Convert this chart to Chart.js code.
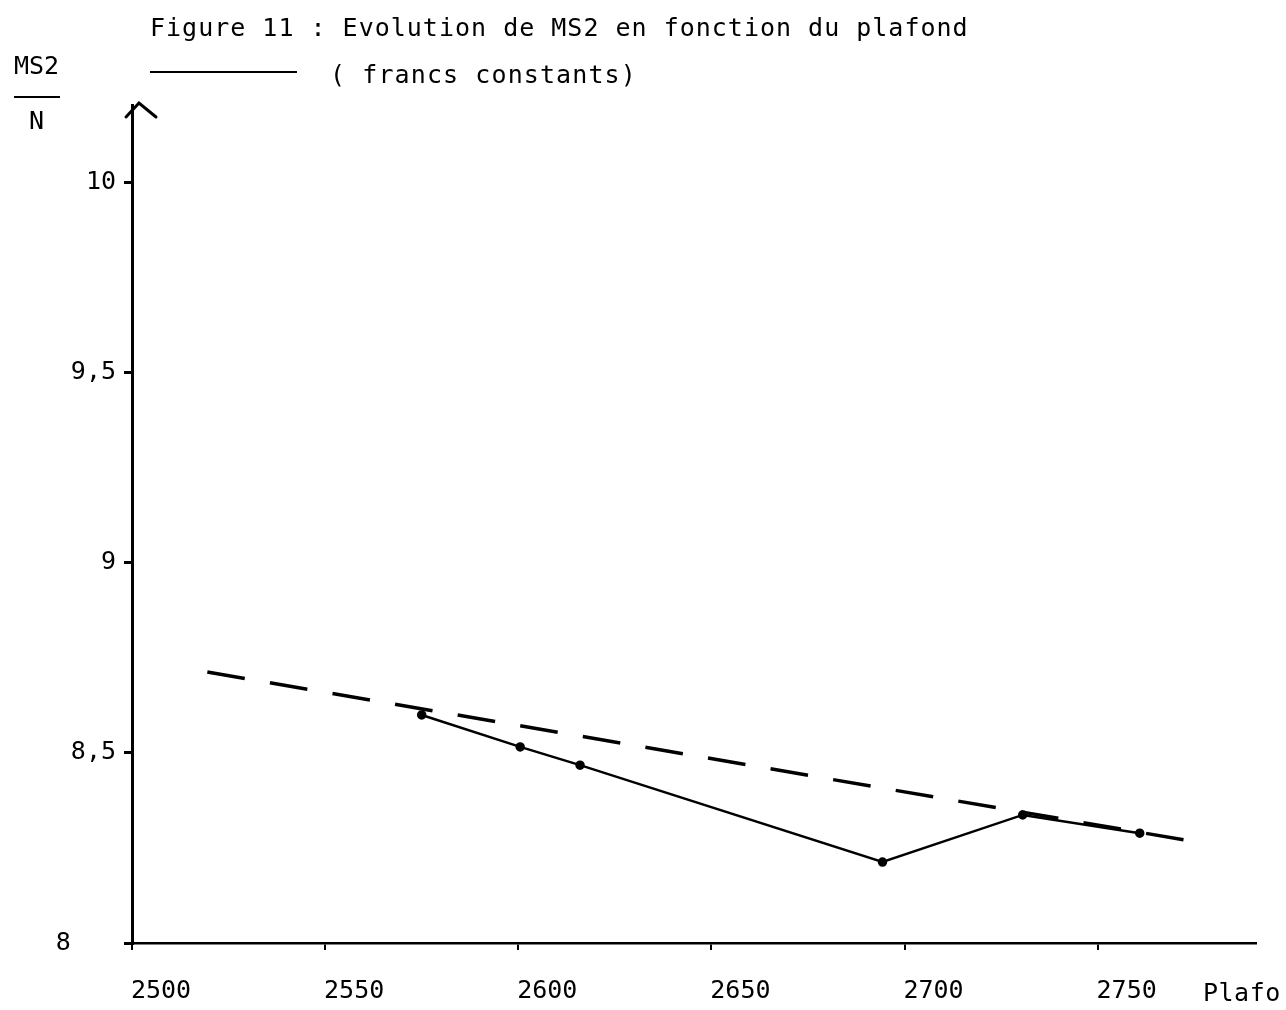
<!DOCTYPE html>
<html>
<head>
<meta charset="utf-8">
<script src="https://cdn.jsdelivr.net/npm/chart.js@4/dist/chart.umd.min.js"></script>
<style>
  html, body { margin: 0; padding: 0; background: #fff; }
  #wrap { position: relative; width: 1286px; height: 1010px; }
  canvas { position: absolute; left: 0; top: 0; }
  .t { position: absolute; font-family: "DejaVu Sans Mono", monospace; color: #000; white-space: pre; line-height: 1; }
</style>
</head>
<body>
<div id="wrap">
  <canvas id="c" width="1286" height="1010"></canvas>
  <div class="t" id="title" style="left:150px; top:15px; font-size:25px; letter-spacing:1.0px;">Figure 11 : Evolution de MS2 en fonction du plafond</div>
  <div style="position:absolute; left:150px; top:71px; width:147px; height:2px; background:#000;"></div>
  <div class="t" id="sub" style="left:330px; top:62px; font-size:25px; letter-spacing:1.1px;">( francs constants)</div>
  <div class="t" id="ylab1" style="left:14px; top:53px; font-size:25px; letter-spacing:0px;">MS2</div>
  <div style="position:absolute; left:14px; top:96px; width:46px; height:2px; background:#000;"></div>
  <div class="t" id="ylab2" style="left:29px; top:108px; font-size:25px;">N</div>
  <div class="t" id="xlab" style="left:1203px; top:980px; font-size:25px; letter-spacing:0.5px;">Plafo</div>
</div>
<script>
// ---- data ----
const solidX = [2575, 2600.5, 2616, 2694.3, 2730.6, 2760.9];
const solidY = [8.600, 8.516, 8.468, 8.213, 8.337, 8.289];
const dashedX = [2519.5, 2772.5];
const dashedY = [8.713, 8.271];
const xTicks = [2500, 2550, 2600, 2650, 2700, 2750];
const yTicks = [8, 8.5, 9, 9.5, 10];
const yTickLabels = ["8   ", "8,5", "9", "9,5", "10"];

const toPts = (xs, ys) => xs.map((x, i) => ({ x: x, y: ys[i] }));

const arrowPlugin = {
  id: 'arrow',
  afterDraw(chart) {
    const ctx = chart.ctx;
    const x = chart.scales.x.getPixelForValue(2500);
    const top = chart.chartArea.top;
    ctx.save();
    ctx.strokeStyle = '#000';
    ctx.lineWidth = 3;
    ctx.lineCap = 'round';
    ctx.beginPath();
    ctx.moveTo(x - 6, top + 12);
    ctx.lineTo(x + 7, top - 2);
    ctx.lineTo(x + 24, top + 12);
    ctx.stroke();
    ctx.restore();
  }
};

const FONT = "'DejaVu Sans Mono', monospace";

new Chart(document.getElementById('c'), {
  type: 'scatter',
  data: {
    datasets: [
      {
        label: 'MS2/N (francs constants)',
        data: toPts(solidX, solidY),
        showLine: true,
        borderColor: '#000',
        backgroundColor: '#000',
        borderWidth: 2.5,
        pointRadius: 3.5,
        pointHoverRadius: 3.5,
        tension: 0
      },
      {
        label: 'tendance',
        data: toPts(dashedX, dashedY),
        showLine: true,
        borderColor: '#000',
        borderWidth: 3.5,
        borderDash: [38, 25.5],
        pointRadius: 0,
        tension: 0
      }
    ]
  },
  options: {
    responsive: false,
    animation: false,
    layout: { padding: { left: 0, right: 30, top: 105, bottom: 0 } },
    plugins: {
      legend: { display: false },
      title: { display: false },
      tooltip: { enabled: false }
    },
    scales: {
      x: {
        type: 'linear',
        min: 2500,
        max: 2791,
        afterFit: s => { s.height = 67; },
        afterBuildTicks: s => { s.ticks = xTicks.map(v => ({ value: v })); },
        border: { display: true, color: '#000', width: 2.5 },
        grid: { drawOnChartArea: false, drawTicks: true, tickLength: 7, color: '#000', lineWidth: 2 },
        ticks: {
          color: '#000',
          font: { family: FONT, size: 25 },
          padding: 26,
          labelOffset: 29,
          maxRotation: 0,
          autoSkip: false,
          callback: v => String(v)
        }
      },
      y: {
        type: 'linear',
        min: 8,
        max: 10.205,
        afterFit: s => { s.width = 132; },
        afterBuildTicks: s => { s.ticks = yTicks.map(v => ({ value: v })); },
        border: { display: true, color: '#000', width: 3 },
        grid: { drawOnChartArea: false, drawTicks: true, tickLength: 8, color: '#000', lineWidth: 3 },
        ticks: {
          color: '#000',
          font: { family: FONT, size: 25 },
          padding: 8,
          autoSkip: false,
          callback: v => {
            const i = yTicks.indexOf(v);
            return i >= 0 ? yTickLabels[i] : '';
          }
        }
      }
    }
  },
  plugins: [arrowPlugin]
});
</script>
</body>
</html>
